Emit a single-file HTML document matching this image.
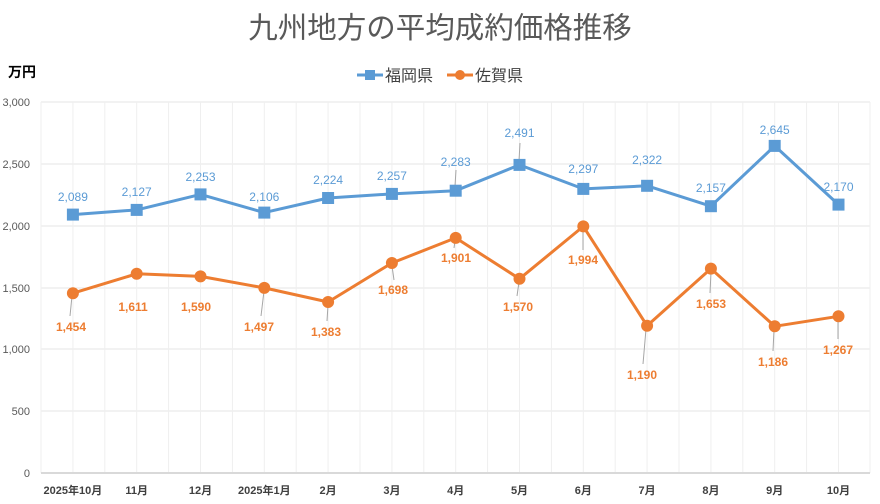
<!DOCTYPE html>
<html><head><meta charset="utf-8"><style>
html,body{margin:0;padding:0;background:#fff;}
svg{display:block;font-family:"Liberation Sans","Noto Sans CJK JP",sans-serif;}
</style></head><body>
<svg width="880" height="504" viewBox="0 0 880 504" xmlns="http://www.w3.org/2000/svg">
<rect width="880" height="504" fill="#fff"/>
<text x="440" y="38" text-anchor="middle" font-size="29.5" fill="#595959">九州地方の平均成約価格推移</text>
<text x="8" y="77" font-size="14" font-weight="bold" fill="#000">万円</text>
<!-- legend -->
<line x1="357" y1="75" x2="383" y2="75" stroke="#5b9bd5" stroke-width="3"/>
<rect x="365" y="70" width="10" height="10" fill="#5b9bd5"/>
<text x="385" y="81" font-size="16" fill="#404040">福岡県</text>
<line x1="447" y1="75" x2="473" y2="75" stroke="#ed7d31" stroke-width="3"/>
<circle cx="460" cy="75" r="5" fill="#ed7d31"/>
<text x="475" y="81" font-size="16" fill="#404040">佐賀県</text>
<!-- grid -->
<g stroke="#e6e6e6" stroke-width="1">
<line x1="41" y1="102" x2="870" y2="102"/><line x1="41" y1="164" x2="870" y2="164"/>
<line x1="41" y1="226" x2="870" y2="226"/><line x1="41" y1="288" x2="870" y2="288"/>
<line x1="41" y1="349" x2="870" y2="349"/><line x1="41" y1="411" x2="870" y2="411"/>
</g>
<g stroke="#efefef" stroke-width="1">
<line x1="41" y1="102" x2="41" y2="473"/><line x1="72.9" y1="102" x2="72.9" y2="473"/><line x1="104.8" y1="102" x2="104.8" y2="473"/><line x1="136.7" y1="102" x2="136.7" y2="473"/><line x1="168.6" y1="102" x2="168.6" y2="473"/><line x1="200.5" y1="102" x2="200.5" y2="473"/><line x1="232.4" y1="102" x2="232.4" y2="473"/><line x1="264.3" y1="102" x2="264.3" y2="473"/><line x1="296.2" y1="102" x2="296.2" y2="473"/><line x1="328.1" y1="102" x2="328.1" y2="473"/><line x1="360" y1="102" x2="360" y2="473"/><line x1="391.9" y1="102" x2="391.9" y2="473"/><line x1="423.8" y1="102" x2="423.8" y2="473"/><line x1="455.7" y1="102" x2="455.7" y2="473"/><line x1="487.6" y1="102" x2="487.6" y2="473"/><line x1="519.5" y1="102" x2="519.5" y2="473"/><line x1="551.4" y1="102" x2="551.4" y2="473"/><line x1="583.3" y1="102" x2="583.3" y2="473"/><line x1="615.2" y1="102" x2="615.2" y2="473"/><line x1="647.1" y1="102" x2="647.1" y2="473"/><line x1="679" y1="102" x2="679" y2="473"/><line x1="710.9" y1="102" x2="710.9" y2="473"/><line x1="742.8" y1="102" x2="742.8" y2="473"/><line x1="774.7" y1="102" x2="774.7" y2="473"/><line x1="806.6" y1="102" x2="806.6" y2="473"/><line x1="838.5" y1="102" x2="838.5" y2="473"/><line x1="870" y1="102" x2="870" y2="473"/>
</g>
<line x1="41" y1="473" x2="870" y2="473" stroke="#d9d9d9" stroke-width="2"/>
<!-- y labels -->
<g font-size="11" fill="#595959" text-anchor="end">
<text x="30" y="106">3,000</text><text x="30" y="168">2,500</text><text x="30" y="230">2,000</text>
<text x="30" y="292">1,500</text><text x="30" y="353">1,000</text><text x="30" y="415">500</text><text x="30" y="477">0</text>
</g>
<!-- x labels -->
<g font-size="11" font-weight="bold" fill="#404040" text-anchor="middle">
<text x="72.9" y="494">2025年10月</text><text x="136.7" y="494">11月</text><text x="200.5" y="494">12月</text>
<text x="264.3" y="494">2025年1月</text><text x="328.1" y="494">2月</text><text x="391.9" y="494">3月</text>
<text x="455.7" y="494">4月</text><text x="519.5" y="494">5月</text><text x="583.3" y="494">6月</text>
<text x="647.1" y="494">7月</text><text x="710.9" y="494">8月</text><text x="774.7" y="494">9月</text><text x="838.5" y="494">10月</text>
</g>
<!-- leader lines -->
<g stroke="#a6a6a6" stroke-width="1">
<line x1="72" y1="296" x2="70" y2="316"/><line x1="264" y1="291" x2="261" y2="316"/>
<line x1="328" y1="305" x2="327" y2="321"/><line x1="519" y1="282" x2="517" y2="296"/>
<line x1="646" y1="329" x2="643" y2="364"/><line x1="774" y1="330" x2="773" y2="351"/>
<line x1="838" y1="320" x2="838" y2="339"/><line x1="583" y1="230" x2="583" y2="250"/>
<line x1="455" y1="186" x2="456" y2="170"/><line x1="519" y1="161" x2="520" y2="143"/>
<line x1="392" y1="266" x2="394" y2="280"/><line x1="711" y1="272" x2="710" y2="293"/>
<line x1="455" y1="241" x2="454" y2="248"/>
</g>
<!-- blue series -->
<polyline fill="none" stroke="#5b9bd5" stroke-width="3" stroke-linejoin="round" points="72.9,214.6 136.7,209.9 200.5,194.4 264.3,212.6 328.1,198 391.9,193.9 455.7,190.7 519.5,164.9 583.3,188.9 647.1,185.8 710.9,206.2 774.7,145.9 838.5,204.6"/>
<g fill="#5b9bd5">
<rect x="66.9" y="208.6" width="12" height="12"/><rect x="130.7" y="203.9" width="12" height="12"/><rect x="194.5" y="188.4" width="12" height="12"/><rect x="258.3" y="206.6" width="12" height="12"/><rect x="322.1" y="192" width="12" height="12"/><rect x="385.9" y="187.9" width="12" height="12"/><rect x="449.7" y="184.7" width="12" height="12"/><rect x="513.5" y="158.9" width="12" height="12"/><rect x="577.3" y="182.9" width="12" height="12"/><rect x="641.1" y="179.8" width="12" height="12"/><rect x="704.9" y="200.2" width="12" height="12"/><rect x="768.7" y="139.9" width="12" height="12"/><rect x="832.5" y="198.6" width="12" height="12"/>
</g>
<g font-size="12" fill="#5b9bd5" text-anchor="middle">
<text x="72.9" y="201">2,089</text><text x="136.7" y="196">2,127</text><text x="200.5" y="181">2,253</text><text x="264.3" y="201">2,106</text><text x="328.1" y="184">2,224</text><text x="391.9" y="180">2,257</text><text x="455.7" y="166">2,283</text><text x="519.5" y="137">2,491</text><text x="583.3" y="173">2,297</text><text x="647.1" y="164">2,322</text><text x="710.9" y="192">2,157</text><text x="774.7" y="134">2,645</text><text x="838.5" y="191">2,170</text>
</g>
<!-- orange series -->
<polyline fill="none" stroke="#ed7d31" stroke-width="3" stroke-linejoin="round" points="72.9,293.2 136.7,273.8 200.5,276.4 264.3,287.9 328.1,302 391.9,263 455.7,237.9 519.5,278.8 583.3,226.4 647.1,325.8 710.9,268.6 774.7,326.3 838.5,316.3"/>
<g fill="#ed7d31">
<circle cx="72.9" cy="293.2" r="6"/><circle cx="136.7" cy="273.8" r="6"/><circle cx="200.5" cy="276.4" r="6"/><circle cx="264.3" cy="287.9" r="6"/><circle cx="328.1" cy="302" r="6"/><circle cx="391.9" cy="263" r="6"/><circle cx="455.7" cy="237.9" r="6"/><circle cx="519.5" cy="278.8" r="6"/><circle cx="583.3" cy="226.4" r="6"/><circle cx="647.1" cy="325.8" r="6"/><circle cx="710.9" cy="268.6" r="6"/><circle cx="774.7" cy="326.3" r="6"/><circle cx="838.5" cy="316.3" r="6"/>
</g>
<g font-size="12" font-weight="bold" fill="#ed7d31" text-anchor="middle">
<text x="71" y="331">1,454</text><text x="133" y="311">1,611</text><text x="196" y="311">1,590</text><text x="259" y="331">1,497</text><text x="326" y="336">1,383</text><text x="393" y="294">1,698</text><text x="456" y="262">1,901</text><text x="518" y="311">1,570</text><text x="583" y="264">1,994</text><text x="642" y="379">1,190</text><text x="711" y="308">1,653</text><text x="773" y="366">1,186</text><text x="838" y="354">1,267</text>
</g>
</svg>
</body></html>
